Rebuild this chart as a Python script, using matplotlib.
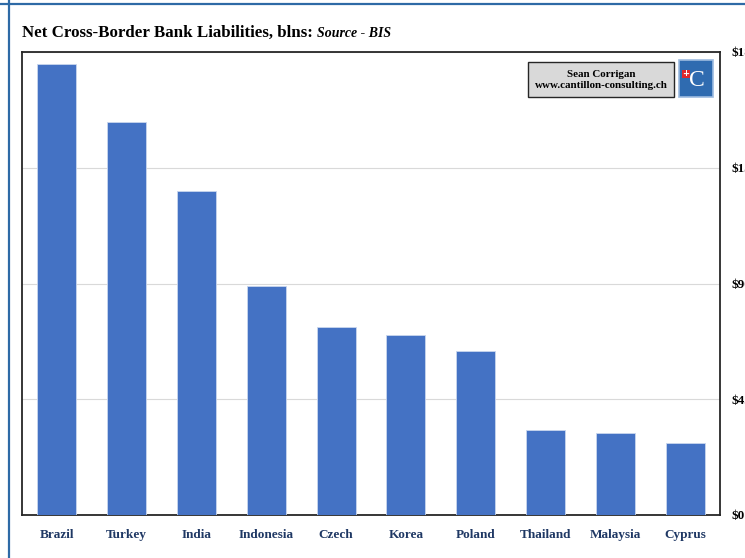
import numpy as np
import matplotlib.pyplot as plt
from matplotlib.patches import Rectangle

countries = ["Brazil", "Turkey", "India", "Indonesia", "Czech",
             "Korea", "Poland", "Thailand", "Malaysia", "Cyprus"]
liabilities = [175.3, 152.8, 126.1, 89.2, 72.9, 69.8, 63.6, 33.0, 31.8, 27.9]
yticks = [0, 45, 90, 135, 180]
ytick_labels = ["$0", "$45", "$90", "$135", "$180"]

bar_blue = "#4472c4"
navy = "#1f3864"
frame_blue = "#2e6aa6"
serif = ["Liberation Serif", "DejaVu Serif"]

fig = plt.figure(figsize=(7.45, 5.58), dpi=100)
W, H = 745, 558

# outer frame lines (top and left)
fig.add_artist(plt.Line2D([0, 1], [1 - 4 / H, 1 - 4 / H], color=frame_blue, lw=1.6))
fig.add_artist(plt.Line2D([9 / W, 9 / W], [0, 1], color=frame_blue, lw=1.6))

ax = fig.add_axes([22 / W, 1 - 515 / H, (720 - 22) / W, (515 - 52) / H])
x = np.arange(len(countries))
ax.bar(x, liabilities, width=0.56, color=bar_blue, edgecolor="#c9d6ee", linewidth=0.6, zorder=3)
ax.set_xlim(-0.5, len(countries) - 0.5)
ax.set_ylim(0, 180)

ax.set_yticks(yticks)
ax.set_yticklabels(ytick_labels)
ax.yaxis.tick_right()
ax.tick_params(axis="y", length=0, pad=8)
ax.grid(axis="y", color="#d9d9d9", lw=0.8, zorder=0)
for lab in ax.get_yticklabels():
    lab.set_family(serif)
    lab.set_fontweight("bold")
    lab.set_fontsize(9.5)

ax.set_xticks(x)
ax.set_xticklabels(countries)
ax.tick_params(axis="x", length=0, pad=10)
for lab in ax.get_xticklabels():
    lab.set_family(serif)
    lab.set_fontweight("bold")
    lab.set_fontsize(9.5)
    lab.set_color(navy)

for s in ax.spines.values():
    s.set_color("#262626")
    s.set_linewidth(1.3)

# title, with the source note placed right after the bold part
t = fig.text(22 / W, 1 - 37 / H, "Net Cross-Border Bank Liabilities, blns:",
             family=serif, fontweight="bold", fontsize=12.2)
fig.canvas.draw()
bb = t.get_window_extent()
fig.text(bb.x1 / W + 4 / W, 1 - 37 / H, "Source - BIS",
         family=serif, fontweight="bold", style="italic", fontsize=10)

# author box
fig.add_artist(Rectangle((528 / W, 1 - 97 / H), 146 / W, 35 / H, transform=fig.transFigure,
                         facecolor="#d9d9d9", edgecolor="#262626", lw=1.0))
fig.text(601 / W, 1 - 80 / H, "Sean Corrigan\nwww.cantillon-consulting.ch",
         ha="center", va="center", family=serif, fontweight="bold", fontsize=7.9,
         linespacing=1.3)

# logo
fig.add_artist(Rectangle((679 / W, 1 - 97 / H), 34 / W, 37 / H, transform=fig.transFigure,
                         facecolor="#2f6bb0", edgecolor="#9dbbe0", lw=1.2))
fig.add_artist(Rectangle((682 / W, 1 - 78 / H), 8 / W, 8 / H, transform=fig.transFigure,
                         facecolor="#e0262b", edgecolor="none"))
fig.text(686 / W, 1 - 74 / H, "+", color="white", ha="center", va="center",
         fontsize=6, fontweight="bold")
fig.text(697 / W, 1 - 80 / H, "C", color="white", ha="center", va="center",
         family=serif, fontsize=17)

fig.savefig("out.png", dpi=100)
